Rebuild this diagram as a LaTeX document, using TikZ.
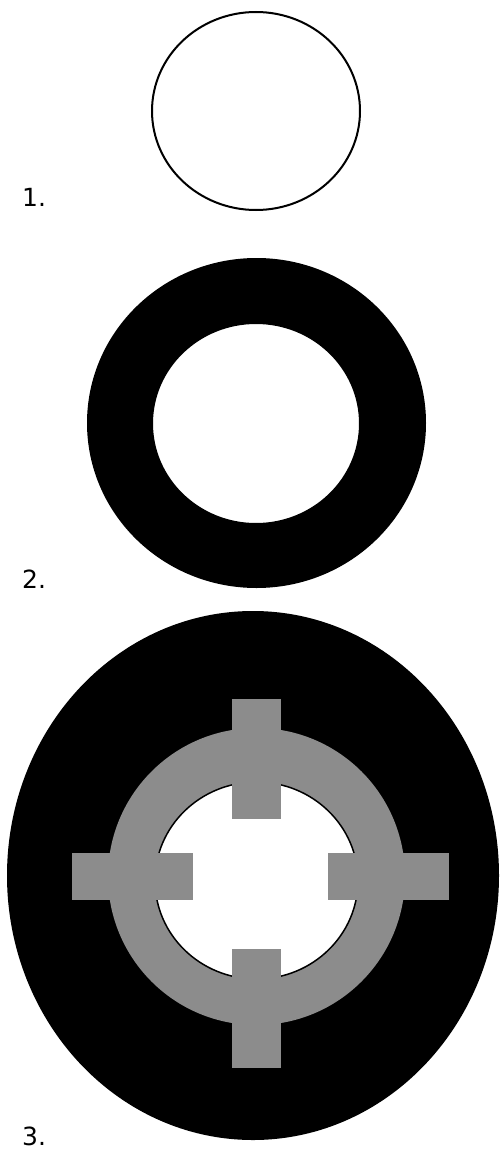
\documentclass[tikz,border=0pt]{standalone}
\usepackage{fontspec}
\setmainfont{DejaVu Sans}
\definecolor{ringgray}{RGB}{140,140,140}
\begin{document}
\begin{tikzpicture}[x=1pt,y=-1pt,
  lbl/.style={anchor=base west,inner sep=0pt,font=\fontsize{25}{30}\selectfont},
  grayshape/.style={fill=ringgray}]
\useasboundingbox (0,0) rectangle (501,1153);
% figure 1
\draw[line width=2pt] (256,111) ellipse [x radius=104pt, y radius=99pt];
\node[lbl] (l1) at (22,206) {1.};
% figure 2
\fill[black,even odd rule] (256.5,423) ellipse [x radius=169.5pt, y radius=165pt]
  (256,423.5) ellipse [x radius=103pt, y radius=99.5pt];
\node[lbl] (l2) at (22,588) {2.};
% figure 3
\fill[black] (253,875.5) ellipse [x radius=246pt, y radius=264.5pt];
\fill[grayshape] (256.5,876.5) circle [radius=148.5pt];
\filldraw[fill=white,draw=black,line width=1.5pt] (256.5,880.5) ellipse [x radius=101.5pt, y radius=98.5pt];
\fill[grayshape] (232,699) rectangle (281,819);
\fill[grayshape] (232,949) rectangle (281,1068);
\fill[grayshape] (72,853) rectangle (193,900);
\fill[grayshape] (328,853) rectangle (449,900);
\node[lbl] (l3) at (22,1145) {3.};
\end{tikzpicture}
\end{document}
